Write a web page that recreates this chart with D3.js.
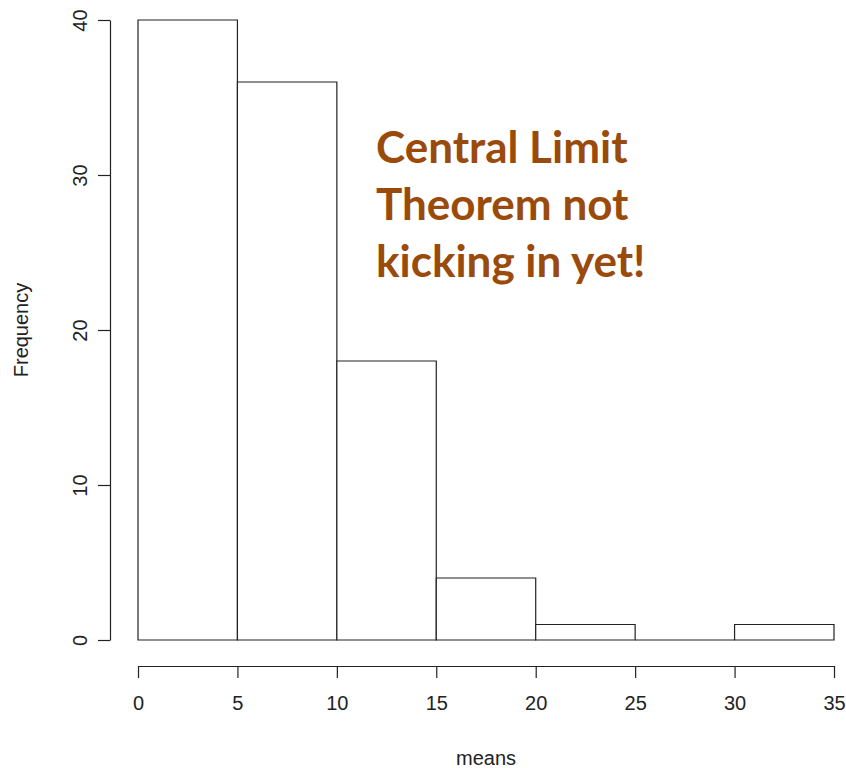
<!DOCTYPE html>
<html>
<head>
<meta charset="utf-8">
<script src="https://cdn.jsdelivr.net/npm/d3@7"></script>
<style>
  html, body { margin: 0; padding: 0; background: #fff; }
  svg { display: block; }
  .axis text { font-family: "Liberation Sans", Arial, sans-serif; font-size: 20px; fill: #222; }
  .axis path, .axis line { stroke: #222; stroke-width: 1.2px; }
</style>
</head>
<body>
<script>
// Histogram bins (lower edges) and counts of the sample means
const binStarts = [0, 5, 10, 15, 20, 25, 30];
const binWidth = 5;
const counts = [40, 36, 18, 4, 1, 0, 1];
const xTicks = [0, 5, 10, 15, 20, 25, 30, 35];
const yTicks = [0, 10, 20, 30, 40];
const noteLines = ["Central Limit", "Theorem not", "kicking in yet!"];

const W = 846, H = 768;
const svg = d3.select("body").append("svg").attr("width", W).attr("height", H);

const x = d3.scaleLinear().domain([0, 35]).range([138, 834]);
const y = d3.scaleLinear().domain([0, 40]).range([640, 20]);

// Bars drawn as closed paths so empty bins still show their base line
svg.append("g")
  .selectAll("path")
  .data(binStarts.map((s, i) => ({ x0: s, x1: s + binWidth, n: counts[i] })))
  .join("path")
  .attr("d", d => {
    const p = d3.path();
    p.moveTo(x(d.x0), y(0));
    p.lineTo(x(d.x0), y(d.n));
    p.lineTo(x(d.x1), y(d.n));
    p.lineTo(x(d.x1), y(0));
    p.closePath();
    return p.toString();
  })
  .attr("fill", "#fff")
  .attr("stroke", "#222")
  .attr("stroke-width", 1.2);

// X axis, offset below the bars
svg.append("g").attr("class", "axis")
  .attr("transform", "translate(0,666)")
  .call(d3.axisBottom(x).tickValues(xTicks).tickSize(12).tickSizeOuter(0).tickPadding(18).tickFormat(d3.format("d")));

// Y axis, offset left of the bars, labels rotated
const gy = svg.append("g").attr("class", "axis")
  .attr("transform", "translate(110,0)")
  .call(d3.axisLeft(y).tickValues(yTicks).tickSize(12).tickSizeOuter(0).tickFormat(d3.format("d")));
gy.selectAll(".tick text")
  .attr("x", null)
  .attr("text-anchor", "middle")
  .attr("transform", "translate(-30,0) rotate(-90)")
  .attr("dy", "0.35em");

// Axis titles
svg.append("text")
  .attr("x", x(17.5)).attr("y", 765)
  .attr("text-anchor", "middle")
  .style("font-family", "Liberation Sans, Arial, sans-serif")
  .style("font-size", "20px").style("fill", "#222")
  .text("means");

svg.append("text")
  .attr("transform", "translate(28,330) rotate(-90)")
  .attr("text-anchor", "middle")
  .style("font-family", "Liberation Sans, Arial, sans-serif")
  .style("font-size", "20px").style("fill", "#222")
  .text("Frequency");

// Annotation
svg.append("g")
  .selectAll("text")
  .data(noteLines)
  .join("text")
  .attr("x", 376)
  .attr("y", (d, i) => 163 + i * 57)
  .style("font-family", "Lato, 'Open Sans', sans-serif")
  .style("font-weight", 700)
  .style("font-size", "44px")
  .style("fill", "#9A4A0A")
  .text(d => d);
</script>
</body>
</html>
